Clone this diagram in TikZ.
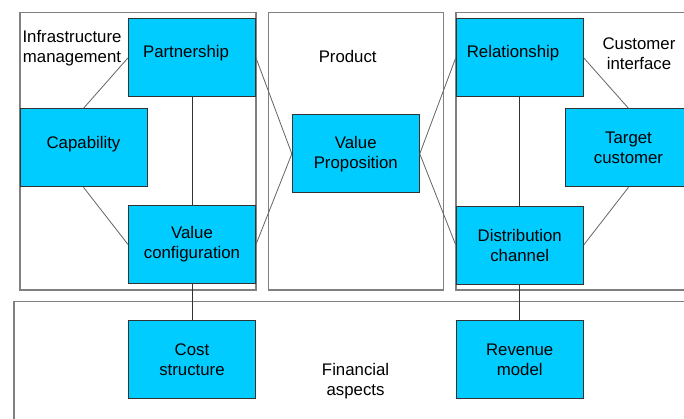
\documentclass[tikz,border=0pt]{standalone}
\usepackage{fontspec}
\setmainfont{Liberation Sans}
\definecolor{boxcyan}{RGB}{0,204,255}
\definecolor{framegray}{RGB}{128,128,128}
\definecolor{linegray}{RGB}{100,100,100}
\definecolor{boxborder}{RGB}{50,50,50}
\begin{document}
\begin{tikzpicture}[x=0.75pt,y=-0.75pt,
  every node/.style={font=\fontsize{12.6}{15}\selectfont, align=center, text=black},
  panel/.style={draw=framegray, line width=1pt},
  blockbox/.style={draw=boxborder, fill=boxcyan, line width=0.7pt, minimum width=95.25pt, minimum height=58.5pt, inner sep=0pt},
  conn/.style={draw=linegray, line width=0.6pt},
  vconn/.style={draw=black!80, line width=0.6pt}]
\useasboundingbox (0,0) rectangle (684,418);
\clip (0,0) rectangle (684,418);
\fill[white] (0,0) rectangle (684,418);
% panels
\draw[panel] (20,12.3) rectangle (256,290);
\draw[panel] (268.3,12.3) rectangle (443.3,290);
\draw[panel] (456,12.3) rectangle (700,290);
\draw[panel] (14,301.7) rectangle (700,440);
% panel labels
\node (infra) at (72,48) {Infrastructure\\management};
\node (prod) at (347.7,56) {Product};
\node (cust) at (639,54) {Customer\\interface};
\node (fin) at (355.6,381) {Financial\\aspects};
% boxes
\node[blockbox, label={[xshift=-4.5pt,yshift=3.5pt]center:Partnership}] (part) at (192,57.8) {};
\node[blockbox, label={[yshift=2.5pt]center:Capability}] (cap) at (83.5,147.8) {};
\node[blockbox] (vc) at (192,244.5) {Value\\configuration};
\node[blockbox] (vp) at (355.8,153.8) {Value\\Proposition};
\node[blockbox, label={[xshift=-5pt,yshift=3.5pt]center:Relationship}] (rel) at (519.7,57.8) {};
\node[blockbox] (tc) at (628.5,147.8) {Target\\customer};
\node[blockbox] (dc) at (519.7,245) {Distribution\\channel};
\node[blockbox] (cost) at (192,359.5) {Cost\\structure};
\node[blockbox] (rev) at (519.7,359.5) {Revenue\\model};
% connectors
\draw[conn] (cap.north) -- (part.west);
\draw[conn] (cap.south) -- (vc.west);
\draw[vconn] (part.south) -- (vc.north);
\draw[conn] (part.east) -- (vp.west);
\draw[conn] (vc.east) -- (vp.west);
\draw[conn] (rel.west) -- (vp.east);
\draw[conn] (dc.west) -- (vp.east);
\draw[vconn] (rel.south) -- (dc.north);
\draw[conn] (rel.east) -- (tc.north);
\draw[conn] (tc.south) -- (dc.east);
\draw[vconn] (vc.south) -- (cost.north);
\draw[vconn] (dc.south) -- (rev.north);
\end{tikzpicture}
\end{document}
